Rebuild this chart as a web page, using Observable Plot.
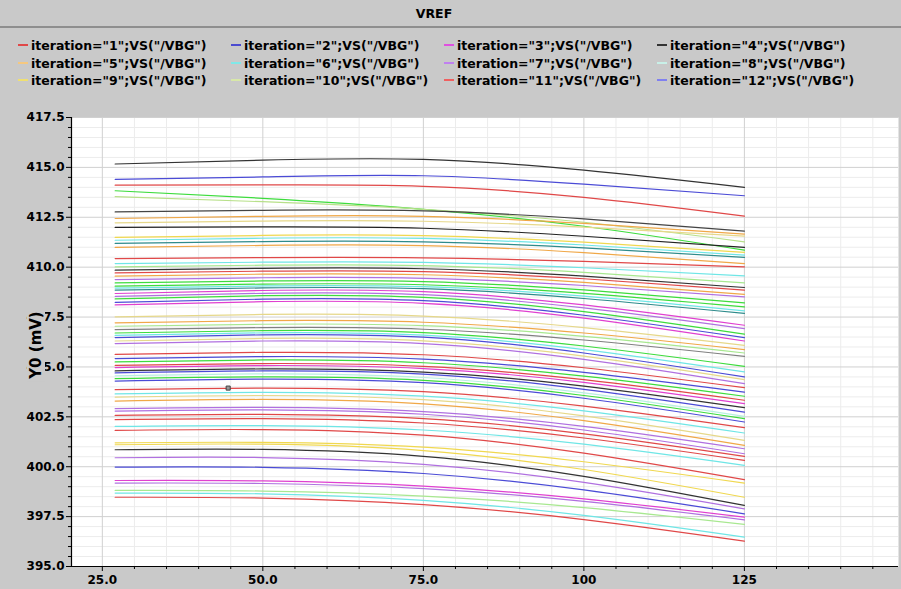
<!DOCTYPE html>
<html>
<head>
<meta charset="utf-8">
<script src="https://cdn.jsdelivr.net/npm/d3@7"></script>
<script src="https://cdn.jsdelivr.net/npm/@observablehq/plot@0.6"></script>
<style>
  html, body { margin: 0; padding: 0; background: #c9c9c9; }
  #wrap { position: relative; width: 901px; height: 589px; overflow: hidden; font-family: "DejaVu Sans", sans-serif; color: #000; }
  #header { position: relative; height: 110px; }
  #title { position: absolute; left: 0; top: 0; height: 26px; border-bottom: 2px solid #8e8e8e; width: 901px; }
  #title span { position: absolute; left: 434px; top: 6px; transform: translateX(-50%); font-weight: bold; font-size: 12.5px; }
  .leg { position: absolute; font-size: 12.5px; font-weight: bold; white-space: nowrap; line-height: 14px; }
  .sw { position: absolute; width: 10px; height: 2px; }
  #ylab { position: absolute; left: 36px; top: 345px; transform: translate(-50%, -50%) rotate(-90deg); font-weight: bold; font-size: 15px; white-space: nowrap; background: #c9c9c9; padding: 1px 3px; line-height: 16px; z-index: 5; }
  #chart svg { display: block; }
</style>
</head>
<body>
<div id="wrap">
  <div id="header">
    <div id="title"><span>VREF</span></div>
  </div>
  <div id="chart"></div>
  <div id="ylab">Y0 (mV)</div>
</div>
<script>
// ---- data ----
const title = "VREF";
const legendLabels = [
  'iteration="1";VS("/VBG")', 'iteration="2";VS("/VBG")', 'iteration="3";VS("/VBG")', 'iteration="4";VS("/VBG")',
  'iteration="5";VS("/VBG")', 'iteration="6";VS("/VBG")', 'iteration="7";VS("/VBG")', 'iteration="8";VS("/VBG")',
  'iteration="9";VS("/VBG")', 'iteration="10";VS("/VBG")', 'iteration="11";VS("/VBG")', 'iteration="12";VS("/VBG")'
];
const legendColors = ["#e04848", "#4b4bd0", "#e050e0", "#333333", "#f5c880", "#80e8e8",
                      "#c080f0", "#c8f0e8", "#f0e070", "#d8e8a8", "#f06060", "#8080f0"];

const xTicks = [25, 50, 75, 100, 125];
const yTicks = [395, 397.5, 400, 402.5, 405, 407.5, 410, 412.5, 415, 417.5];

// temperature sample points
const temps = [27, 50, 75, 100, 125];

const curveColors = [
  "#333333","#4b4bd6","#e04848","#3ddc3d","#b8e08a","#444444","#f0a848","#e6d88a","#222222","#f0d850",
  "#6fe6e6","#2e8b8b","#f0a848","#e04848","#6fe6e6","#a8e890","#333333","#e04848","#f0a848","#b070e0",
  "#3ddc3d","#3ddc3d","#6fe6e6","#2e8b8b","#e040d0","#b070e0","#3ddc3d","#4b4bd6","#e040d0","#e6d88a",
  "#f0a848","#a8e890","#808080","#3ddc3d","#6fe6e6","#4b4bd6","#e6d88a","#b070e0","#e04848","#4b4bd6",
  "#3ddc3d","#e04848","#e040d0","#333333","#4b4bd6","#b8f0e0","#3ddc3d","#4b4bd6","#e04848","#6fe6e6",
  "#e6d88a","#f0a848","#b070e0","#b070e0","#e04848","#e04848","#6fe6e6","#e04848","#f0d850","#f0d850",
  "#333333","#b070e0","#4b4bd6","#e040d0","#b070e0","#a8e890","#6fe6e6","#e04848"
];

const y27 = [415.17,414.40,414.11,413.83,413.53,412.77,412.44,412.22,411.99,411.49,
  411.35,411.19,410.99,410.43,410.18,410.01,409.85,409.71,409.55,409.38,
  409.21,409.05,408.95,408.85,408.68,408.54,408.41,408.24,408.11,407.51,
  407.21,407.04,406.87,406.70,406.58,406.47,406.30,406.17,405.63,405.42,
  405.25,405.08,404.97,404.80,404.70,404.55,404.41,404.29,403.86,403.65,
  403.49,403.29,402.91,402.79,402.57,402.36,402.02,401.82,401.20,401.10,
  400.85,400.45,399.98,399.31,399.18,398.81,398.68,398.47];
const y50 = [415.36,414.52,414.12,413.45,413.28,412.85,412.55,412.31,412.02,411.59,
  411.45,411.28,411.09,410.48,410.25,410.10,409.94,409.80,409.65,409.47,
  409.31,409.15,409.06,408.96,408.83,408.69,408.57,408.40,408.27,407.63,
  407.32,407.14,406.97,406.82,406.71,406.61,406.43,406.30,405.73,405.52,
  405.35,405.17,405.07,404.90,404.80,404.65,404.50,404.39,403.94,403.73,
  403.57,403.37,402.97,402.85,402.62,402.41,402.06,401.86,401.22,401.13,
  400.87,400.46,399.97,399.29,399.16,398.78,398.64,398.43];
const y75 = [415.40,414.58,414.05,412.90,412.90,412.82,412.55,412.30,411.95,411.58,
  411.44,411.27,411.08,410.47,410.24,410.08,409.92,409.78,409.62,409.44,
  409.28,409.12,409.02,408.92,408.77,408.62,408.49,408.32,408.19,407.55,
  407.24,407.07,406.89,406.72,406.59,406.49,406.31,406.17,405.61,405.39,
  405.21,405.03,404.92,404.74,404.64,404.47,404.33,404.21,403.76,403.54,
  403.36,403.15,402.76,402.63,402.41,402.19,401.84,401.58,400.98,400.81,
  400.52,400.12,399.66,399.03,398.90,398.53,398.31,398.10];
const y100 = [414.86,414.16,413.50,412.05,412.25,412.42,412.19,412.01,411.55,411.25,
  411.11,410.97,410.73,410.29,409.97,409.74,409.55,409.42,409.24,409.08,
  408.86,408.69,408.55,408.43,408.11,407.96,407.77,407.59,407.45,406.97,
  406.70,406.53,406.35,406.05,405.87,405.70,405.54,405.38,404.96,404.73,
  404.54,404.36,404.23,404.04,403.88,403.70,403.57,403.43,403.04,402.80,
  402.55,402.31,402.02,401.84,401.65,401.44,401.13,400.68,400.25,399.86,
  399.52,399.22,398.84,398.39,398.26,397.95,397.56,397.35];
const y125 = [414.00,413.58,412.56,410.85,411.27,411.81,411.66,411.56,410.99,410.74,
  410.60,410.49,410.18,410.01,409.56,409.21,408.98,408.85,408.64,408.51,
  408.21,408.01,407.81,407.68,407.09,406.92,406.64,406.47,406.30,406.08,
  405.87,405.70,405.53,405.03,404.75,404.50,404.36,404.16,403.96,403.74,
  403.53,403.33,403.16,402.96,402.74,402.52,402.41,402.24,401.96,401.69,
  401.32,401.07,400.90,400.65,400.52,400.32,400.07,399.35,399.18,398.47,
  398.06,397.89,397.64,397.47,397.34,397.11,396.47,396.27];

const markerX = [44.6];
const markerY = [403.94];

// ---- header (title + legend) ----
const header = document.getElementById("header");
const colX = [18, 231, 444, 657];
const rowY = [46, 63.5, 81];
legendLabels.forEach((lab, i) => {
  const c = i % 4, r = Math.floor(i / 4);
  const sw = document.createElement("div");
  sw.className = "sw";
  sw.style.left = colX[c] + "px";
  sw.style.top = (rowY[r] - 2) + "px";
  sw.style.background = legendColors[i];
  header.appendChild(sw);
  const t = document.createElement("div");
  t.className = "leg";
  t.textContent = lab;
  t.style.left = (colX[c] + 13) + "px";
  t.style.top = (rowY[r] - 7) + "px";
  header.appendChild(t);
});

// ---- rows for the lines ----
const series = [y27, y50, y75, y100, y125];
const rows = [];
y27.forEach((_, i) => {
  temps.forEach((t, j) => {
    rows.push({iter: i + 1, x: t, y: series[j][i], color: curveColors[i]});
  });
});
const markers = markerX.map((x, i) => ({x, y: markerY[i]}));

const xMinor = d3.range(25, 150, 5).filter(v => !xTicks.includes(v));
const yMinor = d3.range(395, 417.6, 0.5).map(v => +v.toFixed(1)).filter(v => !yTicks.includes(v));

const plot = Plot.plot({
  width: 901,
  height: 479,
  marginTop: 7,
  marginBottom: 23,
  marginLeft: 71,
  marginRight: 3,
  x: {domain: [20.2, 149]},
  y: {domain: [395, 417.5]},
  color: {type: "identity"},
  style: {background: "transparent", fontFamily: "DejaVu Sans", fontSize: "12px", fontWeight: "bold", color: "#000", overflow: "visible"},
  marks: [
    Plot.frame({fill: "white", stroke: null}),
    Plot.ruleX(xMinor, {stroke: "#ececec"}),
    Plot.ruleY(yMinor, {stroke: "#ececec"}),
    Plot.ruleX(xTicks, {stroke: "#d0d0d0"}),
    Plot.ruleY(yTicks, {stroke: "#d0d0d0"}),
    Plot.line(rows, {x: "x", y: "y", z: "iter", stroke: "color", strokeWidth: 1.2, curve: "natural"}),
    Plot.dot(markers, {x: "x", y: "y", symbol: "square", r: 2.3, stroke: "#444", fill: "#9a9a9a", strokeWidth: 1}),
    Plot.axisY({ticks: yMinor, tickSize: 3, tickFormat: () => "", label: null}),
    Plot.axisY({ticks: yTicks, tickSize: 5, tickPadding: 2, tickFormat: d => d.toFixed(1), label: null}),
    Plot.axisX({ticks: xMinor, tickSize: 3, tickFormat: () => "", label: null}),
    Plot.axisX({ticks: xTicks, tickSize: 5, tickPadding: 4, tickFormat: d => d >= 100 ? String(d) : d.toFixed(1), label: null}),
    Plot.ruleX([20.2], {stroke: "#000", strokeWidth: 1.2}),
    Plot.ruleY([395], {stroke: "#000", strokeWidth: 1.2})
  ]
});
document.getElementById("chart").appendChild(plot);
</script>
</body>
</html>
